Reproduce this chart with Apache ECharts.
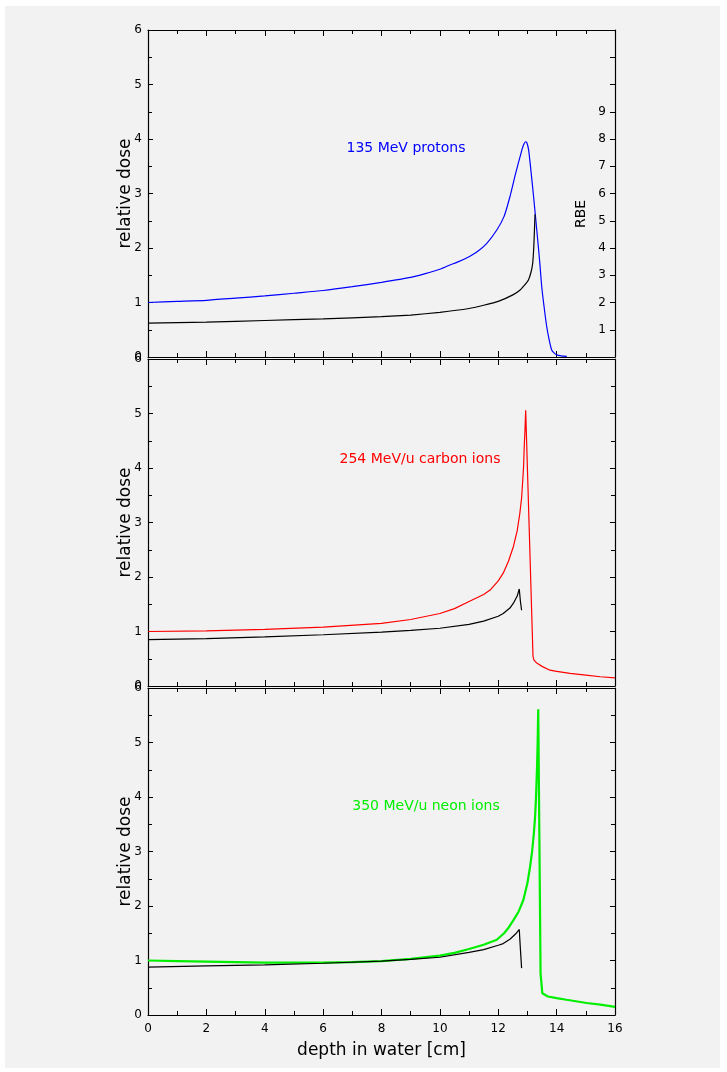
<!DOCTYPE html>
<html>
<head>
<meta charset="utf-8">
<script src="https://cdn.jsdelivr.net/npm/echarts@6/dist/echarts.min.js"></script>
<style>
html,body{margin:0;padding:0;background:#fff;}
#chart{width:727px;height:1072px;}
</style>
</head>
<body>
<div id="chart"></div>
<script>
// ---- data (depth in cm, relative dose) ----
const protonDepth = [0, 1, 2, 3, 4, 5, 6, 7, 8, 9, 9.5, 10, 10.3, 10.6, 11, 11.3, 11.6, 11.95, 12.2, 12.4, 12.6, 12.75, 12.82, 12.88, 12.93, 12.98, 13.04, 13.1, 13.2, 13.32, 13.42, 13.49, 13.58, 13.66, 13.75, 13.83, 13.92, 14.0, 14.15, 14.35];
const protonDose  = [1.00, 1.02, 1.04, 1.08, 1.12, 1.17, 1.22, 1.29, 1.37, 1.46, 1.53, 1.61, 1.68, 1.74, 1.84, 1.94, 2.08, 2.33, 2.58, 2.94, 3.38, 3.68, 3.82, 3.91, 3.95, 3.93, 3.80, 3.52, 3.00, 2.33, 1.75, 1.29, 0.88, 0.56, 0.30, 0.13, 0.07, 0.04, 0.02, 0.01];
const protonBlackDepth = [0, 2, 4, 6, 8, 9, 10, 11, 11.5, 12, 12.5, 12.75, 12.9, 13.03, 13.12, 13.18, 13.22, 13.26];
const protonBlackDose  = [0.62, 0.64, 0.67, 0.70, 0.74, 0.77, 0.82, 0.89, 0.95, 1.02, 1.14, 1.23, 1.32, 1.41, 1.55, 1.72, 2.05, 2.62];

const carbonDepth = [0, 2, 4, 6, 8, 9, 10, 10.5, 11, 11.5, 11.72, 12.0, 12.17, 12.35, 12.52, 12.65, 12.74, 12.80, 12.84, 12.87, 12.89, 12.92, 12.94, 13.19, 13.22, 13.32, 13.5, 13.77, 14.0, 14.46, 15.0, 15.5, 16.0];
const carbonDose  = [1.00, 1.01, 1.04, 1.08, 1.15, 1.22, 1.33, 1.42, 1.55, 1.68, 1.76, 1.93, 2.07, 2.29, 2.56, 2.85, 3.17, 3.45, 3.78, 4.05, 4.39, 4.75, 5.06, 0.55, 0.48, 0.42, 0.36, 0.29, 0.27, 0.23, 0.20, 0.17, 0.15];
const carbonBlackDepth = [0, 2, 4, 6, 8, 9, 10, 11, 11.5, 12, 12.17, 12.4, 12.52, 12.65, 12.72, 12.76, 12.80];
const carbonBlackDose  = [0.85, 0.87, 0.90, 0.94, 0.99, 1.02, 1.06, 1.13, 1.19, 1.28, 1.33, 1.43, 1.52, 1.65, 1.78, 1.55, 1.39];

const neonDepth = [0, 1, 2, 3, 4, 5, 6, 7, 8, 9, 10, 10.5, 11, 11.5, 11.95, 12.2, 12.35, 12.52, 12.7, 12.86, 13.0, 13.09, 13.16, 13.22, 13.26, 13.29, 13.31, 13.33, 13.35, 13.37, 13.45, 13.51, 13.7, 14.0, 14.34, 15.03, 15.5, 16.0];
const neonDose  = [1.00, 0.99, 0.98, 0.97, 0.96, 0.96, 0.96, 0.97, 0.99, 1.03, 1.09, 1.14, 1.21, 1.29, 1.38, 1.50, 1.60, 1.74, 1.90, 2.11, 2.42, 2.72, 3.00, 3.33, 3.62, 3.94, 4.25, 4.56, 5.00, 5.61, 0.76, 0.40, 0.34, 0.31, 0.28, 0.22, 0.19, 0.15];
const neonBlackDepth = [0, 2, 4, 6, 8, 9, 10, 11, 11.5, 12, 12.17, 12.4, 12.6, 12.72, 12.76, 12.80];
const neonBlackDose  = [0.88, 0.90, 0.92, 0.95, 0.99, 1.02, 1.06, 1.15, 1.20, 1.28, 1.31, 1.39, 1.49, 1.57, 1.20, 0.86];

const xTickLabels = [0, 2, 4, 6, 8, 10, 12, 14, 16];
const doseTickLabels = [0, 1, 2, 3, 4, 5, 6];
const rbeTickLabels = [1, 2, 3, 4, 5, 6, 7, 8, 9];

const panelTitles = ['135 MeV protons', '254 MeV/u carbon ions', '350 MeV/u neon ions'];
const yTitle = 'relative dose';
const xTitle = 'depth in water [cm]';
const rbeTitle = 'RBE';

function zip(xs, ys) { return xs.map((x, i) => [x, ys[i]]); }

// ---- layout ----
const FONT = 'DejaVu Sans';
const gridTops = [30, 359, 688];
const gridH = 327;
const gridLeft = 148, gridRight = 112;

const axisLineStyle = { color: '#000', width: 1.2 };
const tickStyle = { color: '#000', width: 1 };

const grids = gridTops.map(t => ({ left: gridLeft, right: gridRight, top: t, height: gridH }));

const xAxes = [];
gridTops.forEach((t, i) => {
  ['bottom', 'top'].forEach(pos => {
    const showLabel = (i === 2 && pos === 'bottom');
    xAxes.push({
      type: 'value', gridIndex: i, position: pos, min: 0, max: 16, interval: 2,
      axisLine: { show: true, onZero: false, lineStyle: axisLineStyle },
      axisTick: { show: true, inside: true, length: 6, lineStyle: tickStyle },
      minorTick: { show: true, splitNumber: 2, length: 4, lineStyle: tickStyle },
      splitLine: { show: false },
      axisLabel: {
        show: showLabel, color: '#000', fontFamily: FONT, fontSize: 12, margin: 8,
        formatter: v => xTickLabels.includes(v) ? String(v) : ''
      },
      name: showLabel ? xTitle : '',
      nameLocation: 'middle', nameGap: 27,
      nameTextStyle: { color: '#000', fontFamily: FONT, fontSize: 17 }
    });
  });
});

const yAxes = [];
gridTops.forEach((t, i) => {
  yAxes.push({
    type: 'value', gridIndex: i, position: 'left', min: 0, max: 6, interval: 1,
    axisLine: { show: true, onZero: false, lineStyle: axisLineStyle },
    axisTick: { show: true, inside: true, length: 5, lineStyle: tickStyle },
    minorTick: { show: true, splitNumber: 2, length: 4, lineStyle: tickStyle },
    splitLine: { show: false },
    axisLabel: { color: '#000', fontFamily: FONT, fontSize: 12, margin: 6,
      formatter: v => doseTickLabels.includes(v) ? String(v) : '' },
    name: yTitle, nameLocation: 'middle', nameGap: 14, nameMoveOverlap: false,
    nameTextStyle: { color: '#000', fontFamily: FONT, fontSize: 17 }
  });
  if (i === 0) {
    yAxes.push({
      type: 'value', gridIndex: i, position: 'right', min: 0, max: 12, interval: 1,
      axisLine: { show: true, onZero: false, lineStyle: axisLineStyle },
      axisTick: { show: true, inside: true, length: 5, lineStyle: tickStyle },
      minorTick: { show: false },
      splitLine: { show: false },
      axisLabel: { inside: true, color: '#000', fontFamily: FONT, fontSize: 12, margin: 9,
        formatter: v => rbeTickLabels.includes(v) ? String(v) : '' }
    });
  } else {
    yAxes.push({
      type: 'value', gridIndex: i, position: 'right', min: 0, max: 6, interval: 1,
      axisLine: { show: true, onZero: false, lineStyle: axisLineStyle },
      axisTick: { show: true, inside: true, length: 5, lineStyle: tickStyle },
      minorTick: { show: true, splitNumber: 2, length: 4, lineStyle: tickStyle },
      splitLine: { show: false },
      axisLabel: { show: false }
    });
  }
});

function lineSeries(data, xi, yi, color, width, smooth) {
  return {
    type: 'line', data: data, xAxisIndex: xi, yAxisIndex: yi,
    showSymbol: false, symbol: 'none', smooth: smooth || false, animation: false,
    lineStyle: { color: color, width: width }, z: 3
  };
}

const series = [
  lineSeries(zip(protonDepth, protonDose), 0, 0, '#0000ff', 1.2, 0.2),
  lineSeries(zip(protonBlackDepth, protonBlackDose), 0, 0, '#000000', 1.2, 0.15),
  lineSeries(zip(carbonDepth, carbonDose), 2, 2, '#ff0000', 1.2),
  lineSeries(zip(carbonBlackDepth, carbonBlackDose), 2, 2, '#000000', 1.2),
  lineSeries(zip(neonDepth, neonDose), 4, 4, '#00ee00', 2.2),
  lineSeries(zip(neonBlackDepth, neonBlackDose), 4, 4, '#000000', 1.2)
];

const chart = echarts.init(document.getElementById('chart'), null, { renderer: 'canvas' });
chart.setOption({
  backgroundColor: '#ffffff',
  animation: false,
  grid: grids,
  xAxis: xAxes,
  yAxis: yAxes,
  series: series,
  graphic: [
    { type: 'rect', silent: true, z: -100, shape: { x: 5, y: 6, width: 715, height: 1062 }, style: { fill: '#f2f2f2' } },
    { type: 'text', x: 406, y: 148, z: 10, style: { text: panelTitles[0], fill: '#0000ff', font: '14px "DejaVu Sans"', textAlign: 'center', textVerticalAlign: 'middle' } },
    { type: 'text', x: 420, y: 459, z: 10, style: { text: panelTitles[1], fill: '#ff0000', font: '14px "DejaVu Sans"', textAlign: 'center', textVerticalAlign: 'middle' } },
    { type: 'text', x: 426, y: 806, z: 10, style: { text: panelTitles[2], fill: '#00ee00', font: '14px "DejaVu Sans"', textAlign: 'center', textVerticalAlign: 'middle' } },
    { type: 'text', x: 581, y: 214, z: 10, rotation: Math.PI / 2, style: { text: rbeTitle, fill: '#000', font: '14px "DejaVu Sans"', textAlign: 'center', textVerticalAlign: 'middle' } }
  ]
});
</script>
</body>
</html>
